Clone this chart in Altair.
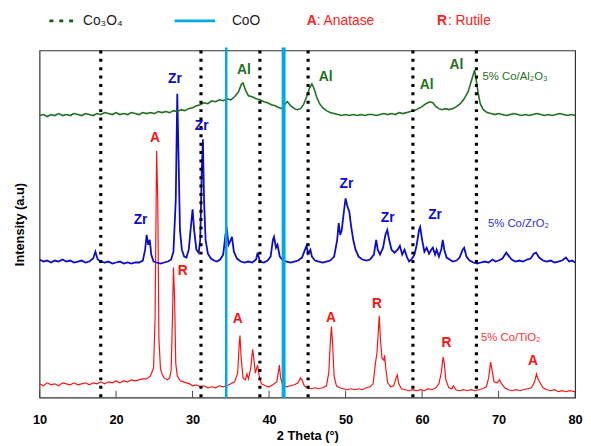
import altair as alt
import pandas as pd

# ---------------- data ----------------
ti_x = [10.0, 10.5, 11.0, 11.5, 12.0, 12.5, 13.0, 13.5, 14.0, 14.5, 15.0, 15.5, 16.0, 16.5, 17.0, 17.5, 18.0, 18.5,
        19.0, 19.5, 20.0, 20.5, 21.0, 21.5, 22.0, 22.5, 23.0, 23.5, 24.0, 24.5, 24.9, 25.1, 25.3, 25.45, 25.6, 25.8,
        26.0, 26.3, 26.7, 27.0, 27.2, 27.4, 27.5, 27.65, 27.8, 28.0, 28.4, 28.8, 29.2, 29.6, 30.0, 30.5, 31.0, 31.5,
        32.0, 32.5, 33.0, 33.5, 34.0, 34.5, 35.0, 35.5, 35.9, 36.1, 36.2, 36.35, 36.6, 36.9, 37.1, 37.3, 37.6, 37.85,
        38.0, 38.2, 38.5, 38.7, 39.0, 39.5, 40.0, 40.5, 41.0, 41.2, 41.35, 41.5, 41.8, 42.3, 42.8, 43.3, 43.8, 44.1,
        44.3, 44.6, 45.0, 45.5, 46.0, 46.5, 47.0, 47.5, 47.8, 48.0, 48.15, 48.3, 48.5, 48.8, 49.2, 49.7, 50.2, 50.7,
        51.2, 51.7, 52.2, 52.7, 53.2, 53.6, 53.9, 54.1, 54.3, 54.4, 54.55, 54.75, 55.0, 55.1, 55.25, 55.5, 55.9, 56.3,
        56.6, 56.75, 56.95, 57.3, 57.8, 58.3, 58.8, 59.3, 59.8, 60.3, 60.8, 61.3, 61.8, 62.2, 62.5, 62.75, 62.9, 63.1,
        63.5, 63.9, 64.1, 64.4, 64.9, 65.4, 65.9, 66.4, 66.9, 67.4, 67.9, 68.4, 68.7, 68.95, 69.1, 69.4, 69.8, 70.1,
        70.4, 70.8, 71.3, 71.8, 72.3, 72.8, 73.3, 73.8, 74.3, 74.7, 74.95, 75.2, 75.5, 75.8, 76.3, 76.8, 77.3, 77.8,
        78.3, 78.8, 79.3, 80.0]
ti_y = [14, 12, 15, 13, 14, 12, 15, 14, 13, 15, 13, 14, 15, 13, 15, 14, 16, 14,
        16, 15, 17, 15, 17, 16, 18, 17, 18, 19, 19, 22, 30, 80, 250, 200, 60, 30,
        24, 20, 18, 20, 28, 90, 132, 100, 35, 22, 17, 16, 15, 14, 12, 13, 11, 12,
        10, 11, 10, 12, 11, 12, 14, 16, 25, 55, 63, 40, 20, 18, 24, 19, 30, 49,
        40, 25, 33, 22, 14, 12, 11, 13, 16, 25, 33, 20, 12, 11, 12, 13, 15, 20,
        18, 12, 10, 9, 10, 9, 10, 12, 25, 55, 72, 55, 22, 12, 10, 9, 8, 9,
        8, 9, 8, 10, 11, 14, 35, 45, 70, 83, 60, 40, 38, 43, 30, 15, 11, 12,
        20, 23, 14, 9, 8, 7, 8, 7, 8, 7, 9, 8, 10, 14, 25, 41, 35, 18,
        10, 9, 12, 8, 7, 8, 7, 8, 7, 8, 9, 11, 20, 36, 30, 16, 15, 18,
        14, 10, 8, 7, 8, 7, 8, 9, 10, 16, 24, 18, 14, 10, 8, 7, 8, 6,
        7, 6, 7, 6]

zr_x = [10.0, 10.5, 11.0, 11.5, 12.0, 12.5, 13.0, 13.5, 14.0, 14.5, 15.0, 15.5, 16.0, 16.5, 17.0, 17.3, 17.6, 18.0,
        18.5, 19.0, 19.5, 20.0, 20.5, 21.0, 21.5, 22.0, 22.5, 23.0, 23.5, 23.8, 24.0, 24.2, 24.4, 24.6, 24.9, 25.3,
        25.8, 26.3, 26.8, 27.2, 27.5, 27.8, 28.0, 28.15, 28.35, 28.6, 28.9, 29.2, 29.5, 29.8, 30.0, 30.2, 30.5, 30.8,
        31.0, 31.2, 31.35, 31.5, 31.7, 32.0, 32.4, 32.8, 33.2, 33.6, 34.0, 34.3, 34.45, 34.7, 35.0, 35.15, 35.4, 35.8,
        36.3, 36.8, 37.3, 37.8, 38.3, 38.5, 38.8, 39.3, 39.8, 40.2, 40.5, 40.65, 40.9, 41.1, 41.4, 41.8, 42.3, 42.8,
        43.3, 43.8, 44.3, 44.7, 44.9, 45.1, 45.4, 45.6, 46.0, 46.5, 47.0, 47.5, 48.0, 48.5, 48.9, 49.1, 49.3, 49.5,
        49.8, 50.0, 50.2, 50.5, 50.7, 51.0, 51.3, 51.7, 52.2, 52.7, 53.2, 53.7, 54.0, 54.2, 54.5, 54.9, 55.2, 55.45,
        55.7, 56.0, 56.4, 56.8, 57.1, 57.4, 57.7, 58.0, 58.3, 58.7, 59.0, 59.3, 59.6, 59.75, 60.0, 60.3, 60.6, 60.9,
        61.2, 61.4, 61.7, 61.9, 62.2, 62.5, 62.7, 62.9, 63.2, 63.6, 64.0, 64.5, 64.9, 65.3, 65.5, 65.8, 66.2, 66.7,
        67.2, 67.7, 68.2, 68.7, 69.2, 69.6, 70.0, 70.5, 71.0, 71.3, 71.7, 72.2, 72.7, 73.2, 73.7, 74.2, 74.6, 74.9,
        75.3, 75.8, 76.3, 76.8, 77.3, 77.8, 78.3, 78.8, 79.2, 79.6, 80.0]
zr_y = [140, 138, 139, 137, 139, 138, 140, 138, 139, 137, 138, 139, 137, 138, 141, 148, 140, 138,
        137, 138, 136, 137, 138, 136, 137, 136, 137, 137, 139, 150, 165, 155, 160, 145, 138, 137,
        136, 137, 138, 140, 148, 200, 308, 250, 170, 150, 143, 142, 150, 175, 191, 170, 150, 147,
        160, 230, 262, 200, 160, 146, 141, 139, 138, 140, 145, 165, 173, 155, 160, 163, 148, 141,
        138, 137, 138, 137, 140, 147, 138, 137, 139, 143, 160, 163, 152, 155, 143, 139, 138, 137,
        138, 139, 142, 150, 154, 146, 150, 143, 139, 138, 137, 138, 139, 143, 160, 177, 165, 170,
        190, 202, 195, 188, 175, 160, 150, 143, 140, 139, 140, 145, 160, 150, 145, 152, 165, 170,
        160, 150, 147, 150, 154, 145, 150, 143, 138, 141, 145, 155, 170, 173, 160, 148, 152, 146,
        150, 152, 145, 150, 143, 150, 160, 150, 142, 140, 138, 139, 142, 150, 152, 143, 139, 137,
        136, 137, 138, 137, 140, 138, 139, 141, 147, 144, 140, 138, 139, 138, 140, 141, 146, 147,
        142, 139, 138, 139, 137, 138, 139, 142, 138, 139, 137]

al_x = [10.0, 10.5, 11.0, 11.5, 12.0, 12.5, 13.0, 13.5, 14.0, 14.5, 15.0, 15.5, 16.0, 16.5, 17.0, 17.5, 18.0, 18.5,
        19.0, 19.5, 20.0, 20.5, 21.0, 21.5, 22.0, 22.5, 23.0, 23.5, 24.0, 24.5, 25.0, 25.5, 26.0, 26.5, 27.0, 27.5,
        28.0, 28.5, 29.0, 29.5, 30.0, 30.5, 31.0, 31.5, 32.0, 32.5, 33.0, 33.5, 34.0, 34.5, 35.0, 35.5, 36.0, 36.4,
        36.6, 36.9, 37.3, 37.8, 38.3, 38.8, 39.3, 39.8, 40.3, 40.8, 41.3, 41.7, 42.1, 42.4, 42.8, 43.3, 43.7, 44.1,
        44.5, 44.9, 45.3, 45.6, 45.9, 46.2, 46.6, 47.0, 47.5, 48.0, 48.5, 49.0, 49.5, 50.0, 50.5, 51.0, 51.5, 52.0,
        52.5, 53.0, 53.5, 54.0, 54.5, 55.0, 55.5, 56.0, 56.5, 57.0, 57.5, 58.0, 58.5, 59.0, 59.5, 60.0, 60.5, 61.0,
        61.4, 61.8, 62.2, 62.6, 63.0, 63.5, 64.0, 64.5, 65.0, 65.5, 66.0, 66.4, 66.7, 66.85, 67.0, 67.3, 67.6, 68.0,
        68.5, 69.0, 69.5, 70.0, 70.5, 71.0, 71.5, 72.0, 72.5, 73.0, 73.5, 74.0, 74.5, 75.0, 75.5, 76.0, 76.5, 77.0,
        77.5, 78.0, 78.5, 79.0, 79.5, 80.0]
al_y = [286, 287, 285, 287, 286, 288, 286, 287, 286, 288, 287, 286, 288, 287, 286, 288, 287, 289,
        288, 287, 289, 287, 288, 287, 289, 288, 287, 289, 288, 289, 288, 290, 289, 290, 289, 291,
        290, 292, 291, 293, 294, 296, 297, 299, 298, 301, 300, 302, 301, 303, 302, 305, 310, 318,
        319, 312, 306, 305, 303, 302, 300, 299, 297, 296, 294, 293, 298, 300, 296, 293, 292, 293,
        297, 305, 314, 318, 313, 305, 298, 294, 291, 289, 288, 287, 286, 287, 286, 287, 286, 287,
        286, 287, 287, 286, 287, 288, 287, 288, 287, 289, 288, 289, 290, 291, 293, 295, 298, 300,
        299, 295, 293, 292, 293, 292, 293, 295, 298, 303, 310, 320, 328, 332, 326, 310, 298, 292,
        289, 288, 287, 288, 287, 286, 287, 288, 287, 286, 287, 286, 287, 288, 287, 286, 287, 286,
        287, 288, 287, 286, 287, 286]

co3o4_lines = [18.0, 31.1, 38.8, 45.1, 58.8, 67.1]
coo_lines = [34.4, 41.9]
coo_widths = [2.5, 4.0]
x_ticks = [10, 20, 30, 40, 50, 60, 70, 80]

al_lbl_text = ["Al", "Al", "Al", "Al"]
al_lbl_x = [36.7, 47.4, 60.6, 64.5]
al_lbl_y = [332, 325, 317, 337]
zr_lbl_text = ["Zr", "Zr", "Zr", "Zr", "Zr", "Zr"]
zr_lbl_x = [27.7, 31.2, 23.2, 50.1, 55.5, 61.7]
zr_lbl_y = [323, 275, 180, 217, 182, 185]
ti_lbl_text = ["A", "R", "A", "A", "R", "R", "A"]
ti_lbl_x = [25.1, 28.7, 35.9, 48.1, 54.1, 63.2, 74.5]
ti_lbl_y = [263, 128, 80, 81, 95, 55, 37]

series_names = ["5% Co/Al\u2082O\u2083", "5% Co/ZrO\u2082", "5% Co/TiO\u2082"]
series_lbl_x = [67.9, 68.6, 67.7]
series_lbl_y = [325, 176, 60]

# ---------------- styling / layout ----------------
W, H = 543, 352
FONT = "Liberation Sans"
RED, BLUE, GREEN, CYAN = "#ff1010", "#0a0ad0", "#1e701e", "#00a8e6"

xs = alt.Scale(domain=[10, 80], nice=False, zero=False)
ys = alt.Scale(domain=[0, 352], nice=False, zero=False)
x_axis = alt.Axis(values=x_ticks, ticks=False, domain=False, grid=False, labelFont=FONT,
                  labelFontSize=13, labelFontWeight="bold", labelColor="black", labelPadding=16,
                  labelFlush=False, title="2 Theta (°)", titleFont=FONT, titleFontSize=13,
                  titleFontWeight="bold", titleColor="black", titlePadding=3)
y_axis = alt.Axis(labels=False, ticks=False, domain=False, grid=False, title="Intensity (a.u)",
                  titleFont=FONT, titleFontSize=13, titleFontWeight="bold", titleColor="black",
                  titlePadding=13)


def X(field="x"):
    return alt.X(f"{field}:Q", scale=xs, axis=x_axis)


def Y(field="y"):
    return alt.Y(f"{field}:Q", scale=ys, axis=y_axis)


def spectrum(x, y, color, width):
    df = pd.DataFrame({"x": x, "y": y})
    return alt.Chart(df).mark_line(color=color, strokeWidth=width, clip=True).encode(x=X(), y=Y())


def labels(texts, x, y, color, size, weight, align="center"):
    df = pd.DataFrame({"t": texts, "x": x, "y": y})
    return alt.Chart(df).mark_text(color=color, font=FONT, fontSize=size, fontWeight=weight,
                                   align=align, baseline="middle").encode(x=X(), y=Y(), text="t:N")


layers = [
    spectrum(ti_x, ti_y, RED, 1.2),
    spectrum(zr_x, zr_y, BLUE, 1.8),
    spectrum(al_x, al_y, GREEN, 1.6),
]

# CoO lines
for v, w in zip(coo_lines, coo_widths):
    layers.append(alt.Chart(pd.DataFrame({"x": [v]})).mark_rule(color=CYAN, strokeWidth=w).encode(
        x=X(), y=alt.value(-3), y2=alt.value(H)))

# Co3O4 dotted lines
layers.append(alt.Chart(pd.DataFrame({"x": co3o4_lines})).mark_rule(
    color="black", strokeWidth=3.2, strokeDash=[3, 5.5], strokeCap="butt").encode(
    x=X(), y=alt.value(0), y2=alt.value(H)))

# inward ticks at bottom
layers.append(alt.Chart(pd.DataFrame({"x": x_ticks})).mark_rule(color="#444", strokeWidth=1).encode(
    x=X(), y=alt.value(H - 7), y2=alt.value(H)))

# annotations
layers += [
    labels(al_lbl_text, al_lbl_x, al_lbl_y, GREEN, 14, "bold"),
    labels(zr_lbl_text, zr_lbl_x, zr_lbl_y, BLUE, 14, "bold"),
    labels(ti_lbl_text, ti_lbl_x, ti_lbl_y, RED, 14, "bold"),
    labels([series_names[0]], [series_lbl_x[0]], [series_lbl_y[0]], GREEN, 11.5, "normal", "left"),
    labels([series_names[1]], [series_lbl_x[1]], [series_lbl_y[1]], "#3030e0", 11.5, "normal", "left"),
    labels([series_names[2]], [series_lbl_x[2]], [series_lbl_y[2]], "#ff3030", 11.5, "normal", "left"),
]

# legend above the frame
LY = -30
layers += [
    alt.Chart(pd.DataFrame({"a": [0]})).mark_rule(color="#0b5e0b", strokeWidth=3, strokeDash=[4, 6],
                                                  strokeCap="butt").encode(
        x=alt.value(10), x2=alt.value(39), y=alt.value(LY)),
    alt.Chart(pd.DataFrame({"a": [0]})).mark_rule(color=CYAN, strokeWidth=3).encode(
        x=alt.value(137), x2=alt.value(178), y=alt.value(LY)),
]
legend_texts = [("Co\u2083O\u2084", 44, "#222", "normal"), ("CoO", 195, "#222", "normal"),
                ("A", 271, "#ff2020", "bold"), (": Anatase", 281, "#ff2020", "normal"),
                ("R", 403, "#ff2020", "bold"), (": Rutile", 414, "#ff2020", "normal")]
for t, px, c, wgt in legend_texts:
    layers.append(alt.Chart(pd.DataFrame({"t": [t]})).mark_text(
        font=FONT, fontSize=14, color=c, fontWeight=wgt, align="left", baseline="middle").encode(
        x=alt.value(px), y=alt.value(LY), text="t:N"))

chart = alt.layer(*layers).properties(
    width=W, height=H,
    autosize=alt.AutoSizeParams(type="none"),
    padding={"left": 32, "top": 40, "right": 8, "bottom": 46},
    background="white",
).configure_view(stroke="#333", strokeWidth=1.2)

chart.save("out.html", embed_options={"renderer": "svg", "actions": False})
